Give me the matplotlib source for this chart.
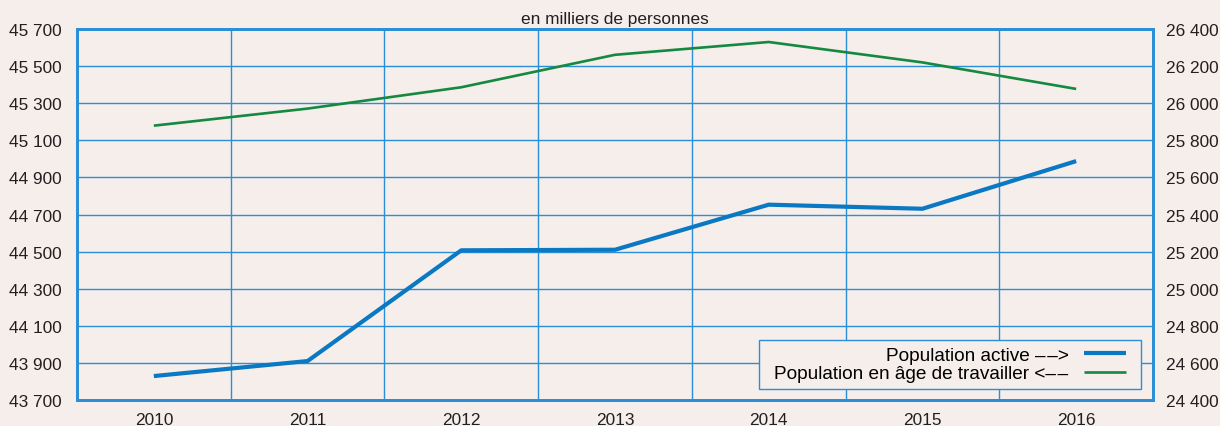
import numpy as np
import matplotlib
matplotlib.use("Agg")
import matplotlib.pyplot as plt
from matplotlib.patches import Rectangle
from matplotlib.ticker import FuncFormatter

plt.rcParams['font.family'] = ['Liberation Sans', 'DejaVu Sans']

years = ['2010', '2011', '2012', '2013', '2014', '2015', '2016']
# population en age de travailler (left axis)
pop_age_travail = [45179, 45271, 45386, 45561, 45630, 45520, 45377]
# population active (right axis)
pop_active = [24529, 24610, 25207, 25210, 25453, 25431, 25688]

bg = '#f5eeeb'
blue_grid = '#2a8fd6'
blue_line = '#0a78c2'
green_line = '#14893f'

fig = plt.figure(figsize=(12.2, 4.27), dpi=100, facecolor=bg)
ax = fig.add_axes([0.0631, 0.0609, 0.882, 0.8688])
ax.set_facecolor(bg)
ax2 = ax.twinx()

x = np.arange(len(years))

l1, = ax2.plot(x, pop_active, color=blue_line, lw=3.0, solid_capstyle='butt')
l2, = ax.plot(x, pop_age_travail, color=green_line, lw=1.9, solid_capstyle='butt')

ax.set_xlim(-0.5, 6.5)
ax.set_ylim(43700, 45700)
ax2.set_ylim(24400, 26400)
ax.set_yticks(np.arange(43700, 45701, 200))
ax2.set_yticks(np.arange(24400, 26401, 200))
ax.set_xticks(x)
ax.set_xticklabels(years)
ax.set_xticks(x[:-1] + 0.5, minor=True)

fmt = FuncFormatter(lambda v, p: '{:,}'.format(int(v)).replace(',', ' '))
ax.yaxis.set_major_formatter(fmt)
ax2.yaxis.set_major_formatter(fmt)

ax.grid(True, axis='y', which='major', color=blue_grid, lw=1.0)
ax.grid(True, axis='x', which='minor', color=blue_grid, lw=1.0)
ax.set_axisbelow(True)

ax.tick_params(axis='both', which='both', length=0, labelsize=12.4, colors='#231f20')
ax.tick_params(axis='y', pad=11)
ax.tick_params(axis='x', pad=9)
ax2.tick_params(axis='y', length=0, labelsize=12.4, colors='#231f20', pad=9)

for a in (ax, ax2):
    for s in a.spines.values():
        s.set_color(blue_grid)
        s.set_linewidth(2.0)

ax.set_title('en milliers de personnes', fontsize=12.4, color='#231f20', pad=4)

# legend box drawn by hand, legend centred inside
box = Rectangle((0.6221, 0.0867), 0.3131, 0.1148, transform=fig.transFigure,
                facecolor=bg, edgecolor=blue_grid, lw=1.0, zorder=5)
fig.add_artist(box)
leg = fig.legend([l1, l2],
                 ['Population active \u2013\u200a\u2013>', 'Population en \u00e2ge de travailler <\u2013\u200a\u2013'],
                 loc='center', bbox_to_anchor=(0.6221 + 0.3131 / 2, 0.0867 + 0.1148 / 2),
                 markerfirst=False, frameon=False, fontsize=13.7, handlelength=2.2,
                 borderpad=0.0, labelspacing=0.05, handletextpad=0.8)
leg.set_zorder(6)

fig.savefig('out.png', dpi=100, facecolor=bg)
